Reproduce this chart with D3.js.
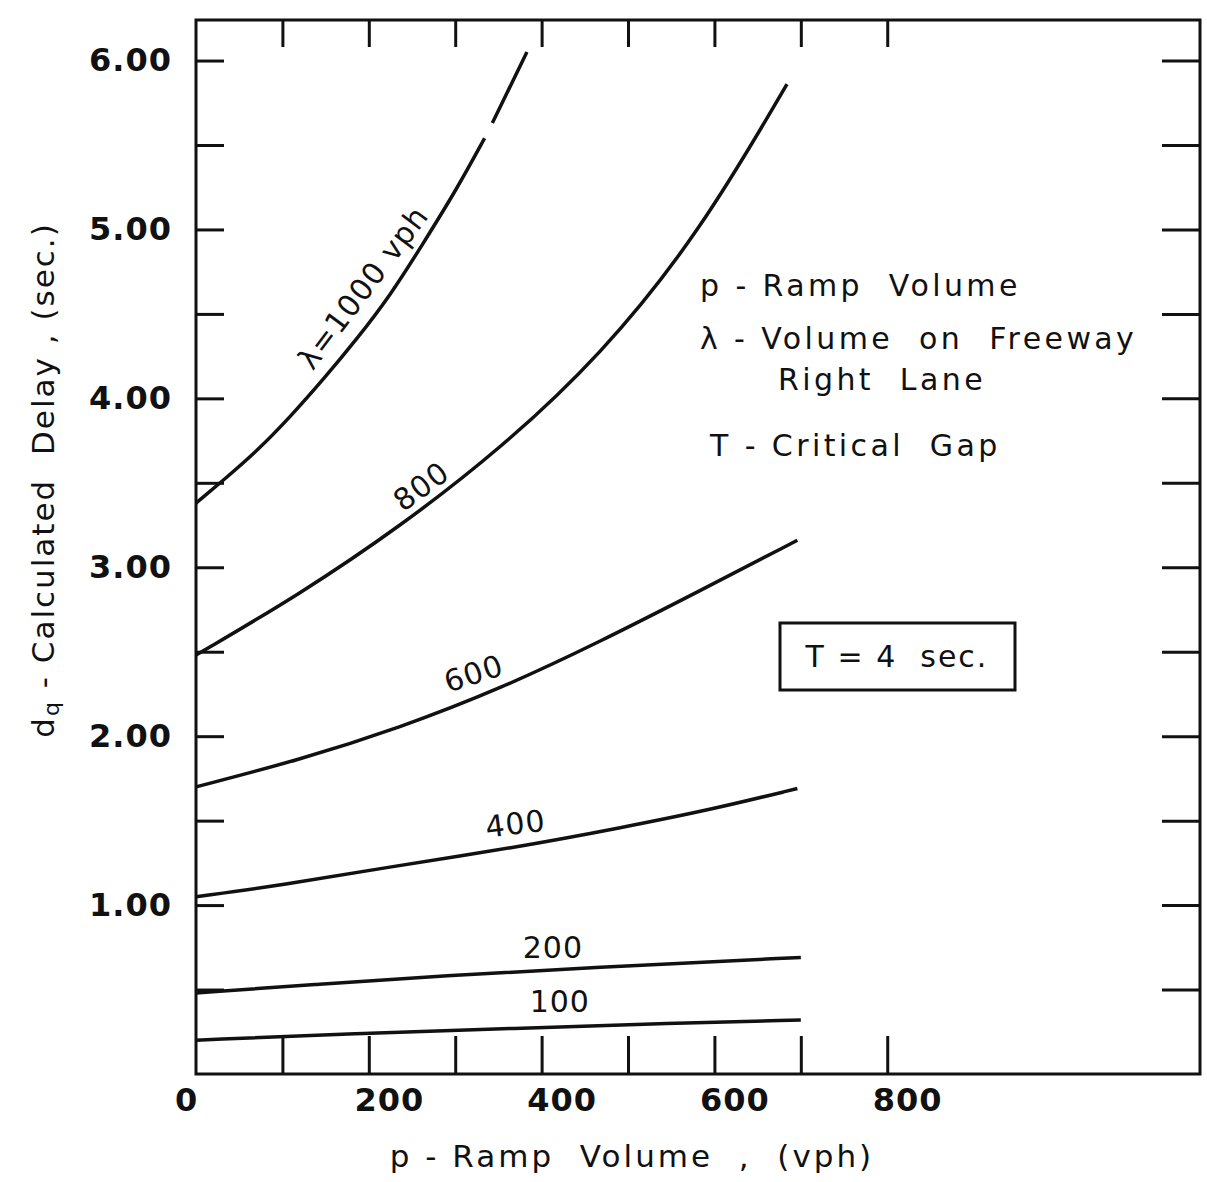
<!DOCTYPE html>
<meta charset="utf-8">
<script src="https://d3js.org/d3.v7.min.js"></script>
<style>
  body { margin: 0; background: #fff; }
  text { font-family: "DejaVu Sans", sans-serif; fill: #111; }
</style>
<div id="chart"></div>
<script>

// ramp volume p (vph) and delay dq (sec), by freeway volume
var lambdas = [1000, 800, 600, 400, 200, 100];

var p1000 = [0, 35, 71, 109, 147, 186, 225, 262, 302, 334, 338, 343, 383];
var d1000 = [3.38, 3.53, 3.69, 3.89, 4.11, 4.35, 4.61, 4.91, 5.24, 5.54, null, 5.63, 6.05];

var p800 = [0, 120, 236, 352, 468, 583, 684];
var d800 = [2.48, 2.84, 3.24, 3.70, 4.25, 4.98, 5.86];

var p600 = [0, 120, 236, 352, 468, 583, 696];
var d600 = [1.70, 1.86, 2.05, 2.28, 2.56, 2.86, 3.16];

var p400 = [0, 102, 216, 369, 494, 600, 696];
var d400 = [1.05, 1.12, 1.22, 1.34, 1.46, 1.57, 1.69];

var p200 = [0, 140, 278, 494, 700];
var d200 = [0.48, 0.53, 0.58, 0.64, 0.69];

var p100 = [0, 185, 369, 550, 700];
var d100 = [0.20, 0.24, 0.27, 0.30, 0.32];

// axis ticks
var xTickLabels = [0, 200, 400, 600, 800];
var xMinorTicks = [100, 200, 300, 400, 500, 600, 700, 800];
var yTickLabels = [1, 2, 3, 4, 5, 6];
var yMinorTicks = [0.5, 1, 1.5, 2, 2.5, 3, 3.5, 4, 4.5, 5, 5.5, 6];

// curve labels: text, p, dq, angle
var curveLabels = [
  {text: "\u03bb=1000 vph", p: 195, d: 4.65, angle: -53},
  {text: "800", p: 262, d: 3.47, angle: -36},
  {text: "600", p: 322, d: 2.36, angle: -18},
  {text: "400", p: 370, d: 1.47, angle: -7},
  {text: "200", p: 413, d: 0.74, angle: 0},
  {text: "100", p: 421, d: 0.42, angle: 0}
];

var legendLines = ["p - Ramp  Volume", "\u03bb - Volume  on  Freeway", "Right  Lane", "T - Critical  Gap"];
var boxText = "T = 4  sec.";

var width = 1207, height = 1182;

var svg = d3.select("#chart").append("svg")
  .attr("width", width)
  .attr("height", height);

var x = d3.scaleLinear().domain([0, 1162]).range([196, 1200]);
var y = d3.scaleLinear().domain([0, 6.24]).range([1074, 20]);

// frame
svg.append("rect")
  .attr("x", x(0)).attr("y", y(6.24))
  .attr("width", x(1162) - x(0)).attr("height", y(0) - y(6.24))
  .attr("fill", "none").attr("stroke", "#111").attr("stroke-width", 3);

// inward ticks on all four sides
svg.append("g").attr("transform", "translate(0," + y(0) + ")")
  .call(d3.axisTop(x).tickValues(xMinorTicks).tickSize(38).tickFormat(""))
  .call(function(g) { g.select(".domain").remove(); });
svg.append("g").attr("transform", "translate(0," + y(6.24) + ")")
  .call(d3.axisBottom(x).tickValues(xMinorTicks).tickSize(27).tickFormat(""))
  .call(function(g) { g.select(".domain").remove(); });
svg.append("g").attr("transform", "translate(" + x(0) + ",0)")
  .call(d3.axisRight(y).tickValues(yMinorTicks).tickSize(28).tickFormat(""))
  .call(function(g) { g.select(".domain").remove(); });
svg.append("g").attr("transform", "translate(" + x(1162) + ",0)")
  .call(d3.axisLeft(y).tickValues(yMinorTicks).tickSize(38).tickFormat(""))
  .call(function(g) { g.select(".domain").remove(); });
svg.selectAll(".tick line").attr("stroke", "#111").attr("stroke-width", 3);

// tick labels
var xLab = svg.append("g").attr("transform", "translate(0," + y(0) + ")")
  .call(d3.axisBottom(x).tickValues(xTickLabels).tickSize(0).tickPadding(14))
  .call(function(g) { g.select(".domain").remove(); });
xLab.selectAll("text")
  .attr("font-size", 32).attr("font-weight", "bold").attr("font-family", "DejaVu Sans").attr("fill", "#111")
  .attr("letter-spacing", 1)
  .attr("dx", function(d) { return d === 0 ? -10 : 20; });

var yLab = svg.append("g").attr("transform", "translate(" + x(0) + ",0)")
  .call(d3.axisLeft(y).tickValues(yTickLabels).tickSize(0).tickPadding(24).tickFormat(d3.format(".2f")))
  .call(function(g) { g.select(".domain").remove(); });
yLab.selectAll("text")
  .attr("font-size", 32).attr("font-weight", "bold").attr("font-family", "DejaVu Sans")
  .attr("fill", "#111").attr("letter-spacing", 1);

// curves
var curves = [
  {lambda: lambdas[0], p: p1000, d: d1000},
  {lambda: lambdas[1], p: p800, d: d800},
  {lambda: lambdas[2], p: p600, d: d600},
  {lambda: lambdas[3], p: p400, d: d400},
  {lambda: lambdas[4], p: p200, d: d200},
  {lambda: lambdas[5], p: p100, d: d100}
];

var line = d3.line()
  .defined(function(d) { return d[1] !== null; })
  .x(function(d) { return x(d[0]); })
  .y(function(d) { return y(d[1]); })
  .curve(d3.curveBasis);

svg.selectAll(".curve")
  .data(curves)
  .enter().append("path")
    .attr("class", "curve")
    .attr("d", function(c) { return line(d3.zip(c.p, c.d)); })
    .attr("fill", "none")
    .attr("stroke", "#111")
    .attr("stroke-width", 3.5);

svg.selectAll(".clabel")
  .data(curveLabels)
  .enter().append("text")
    .attr("class", "clabel")
    .attr("transform", function(d) { return "translate(" + x(d.p) + "," + y(d.d) + ") rotate(" + d.angle + ")"; })
    .attr("text-anchor", "middle")
    .attr("dominant-baseline", "middle")
    .attr("font-size", 30)
    .attr("letter-spacing", 1)
    .text(function(d) { return d.text; });

// legend text
var legendX = [700, 700, 778, 710];
var legendY = [287, 340, 381, 447];
svg.selectAll(".legend")
  .data(legendLines)
  .enter().append("text")
    .attr("x", function(d, i) { return legendX[i]; })
    .attr("y", function(d, i) { return legendY[i]; })
    .attr("dominant-baseline", "middle")
    .attr("font-size", 30)
    .attr("letter-spacing", 3.4)
    .style("white-space", "pre")
    .text(function(d) { return d; });

// T box
svg.append("rect")
  .attr("x", 780).attr("y", 623).attr("width", 235).attr("height", 67)
  .attr("fill", "none").attr("stroke", "#111").attr("stroke-width", 3);
svg.append("text")
  .attr("x", 897).attr("y", 658)
  .attr("text-anchor", "middle").attr("dominant-baseline", "middle")
  .attr("font-size", 30).attr("letter-spacing", 2)
  .style("white-space", "pre")
  .text(boxText);

// axis titles
svg.append("text")
  .attr("x", 632).attr("y", 1158)
  .attr("text-anchor", "middle").attr("dominant-baseline", "middle")
  .attr("font-size", 31).attr("letter-spacing", 3)
  .style("white-space", "pre")
  .text("p - Ramp  Volume  ,  (vph)");

var yTitle = svg.append("text")
  .attr("transform", "translate(45,480) rotate(-90)")
  .attr("text-anchor", "middle").attr("dominant-baseline", "middle")
  .attr("font-size", 31).attr("letter-spacing", 2)
  .style("white-space", "pre");
yTitle.append("tspan").text("d");
yTitle.append("tspan").attr("font-size", 22).attr("dy", 8).text("q");
yTitle.append("tspan").attr("dy", -8).text(" - Calculated  Delay , (sec.)");

</script>
